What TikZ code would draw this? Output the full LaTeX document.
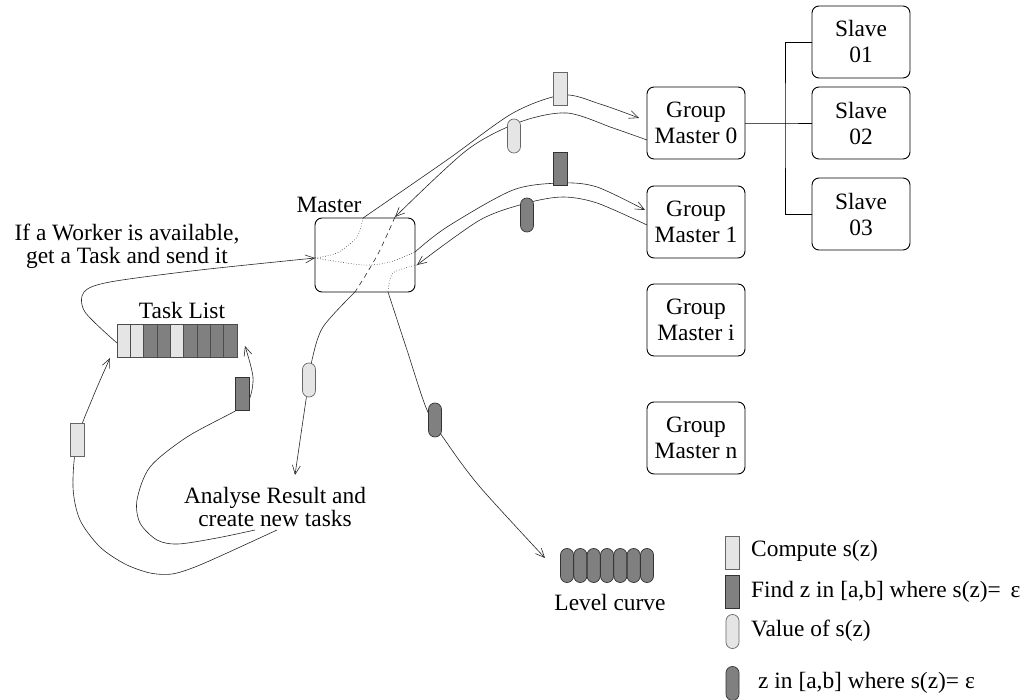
\documentclass[tikz,border=0pt]{standalone}
\usepackage{fontspec}
\setmainfont{Liberation Serif}
\usetikzlibrary{arrows.meta}
\definecolor{lightf}{gray}{0.9}
\definecolor{darkf}{gray}{0.5}
\begin{document}
\begin{tikzpicture}[x=1pt,y=-1pt,
 font=\fontsize{23.4}{26}\selectfont,
 box/.style={draw, line width=0.9pt, rounded corners=7pt, minimum width=98pt, minimum height=72pt, inner sep=0pt, align=center},
 conn/.style={line width=0.6pt, draw=black!85},
 arr/.style={conn, -{Straight Barb[length=9pt,width=8pt,line width=0.6pt]}},
 lrect/.style={draw=black!60, fill=lightf, line width=0.7pt, minimum width=14pt, minimum height=33pt, inner sep=0pt},
 drect/.style={lrect, fill=darkf, draw=black!80},
 loval/.style={lrect, rounded corners=6.4pt, minimum width=13pt, minimum height=34pt},
 doval/.style={loval, fill=darkf, draw=black!80},
 lcell/.style={draw=black!70, line width=0.7pt, fill=lightf, minimum width=13.33pt, minimum height=33pt, inner sep=0pt},
 dcell/.style={lcell, fill=darkf},
 dotl/.style={conn, dotted},
 dashl/.style={conn, dash pattern=on 5pt off 4pt},
 txt/.style={inner sep=0pt, align=center},
 ttxt/.style={inner sep=0pt, align=center, font=\fontsize{23.4}{20.5}\selectfont}
]
\useasboundingbox (0,0) rectangle (1031,700);

% main boxes
\node[box, minimum width=100pt, minimum height=74pt] (master) at (365,255) {};
\node[txt] (masterlbl) at (329,205) {Master};
\node[box] (gm0) at (696,123) {Group\\Master 0};
\node[box] (gm1) at (696,222) {Group\\Master 1};
\node[box] (gmi) at (696,320) {Group\\Master i};
\node[box] (gmn) at (696,438) {Group\\Master n};
\node[box] (s1) at (861,42) {Slave\\01};
\node[box] (s2) at (861,123) {Slave\\02};
\node[box] (s3) at (861,214) {Slave\\03};

% slave tree
\coordinate (branch) at (785,123);
\draw[line width=0.9pt] (gm0.east) -- (branch) -- (s2.west);
\draw[line width=0.9pt] (s1.west) -| (branch) |- (s3.west);

% task list
\foreach \i/\s in {1/lcell,2/lcell,3/dcell,4/dcell,5/lcell,6/dcell,7/dcell,8/dcell,9/dcell}{
  \node[\s] (t\i) at ({117+13.33*(\i-0.5)},340.5) {};
}
\node[txt] (tasklbl) at (182,310) {Task List};

% texts
\node[ttxt, font=\fontsize{23.4}{23}\selectfont] (worker) at (127,246) {If a Worker is available,\\get a Task and send it};
\node[ttxt] (analyse) at (275,507) {Analyse Result and\\create new tasks};

% coordinates
\coordinate (mIn) at (315,258);
\coordinate (mTop) at (363,218);
\coordinate (g0in) at (639,118);
\coordinate (g0out) at (647,140);
\coordinate (mR0) at (395,217);
\coordinate (mBot0) at (355,292);
\coordinate (aIn) at (295,475);
\coordinate (mRight1) at (415,252);
\coordinate (g1in) at (645,210);
\coordinate (g1out) at (647,225);
\coordinate (mR1) at (417,265);
\coordinate (mBot1) at (388,292);
\coordinate (lcIn) at (545,558);
\coordinate (tlOut) at (117,343);
\coordinate (aOut1) at (277,530);
\coordinate (aOut2) at (255,530);
\coordinate (tlIn1) at (110,358);
\coordinate (tlIn2) at (245,346);

% Master -> GM0
\draw[dotl] plot[smooth] coordinates {(mIn) (337,253) (357,237) (mTop)};
\draw[arr] plot[smooth] coordinates {(mTop) (447,160) (513,113) (563,95) (600,104) (g0in)};
% GM0 -> Master -> Analyse
\draw[arr] plot[smooth] coordinates {(g0out) (613,128) (567,113) (520,122) (467,150) (mR0)};
\draw[dashl] plot[smooth] coordinates {(mR0) (380,250) (367,273) (mBot0)};
\draw[arr] plot[smooth] coordinates {(mBot0) (323,327) (312,360) (307,393) (aIn)};
% Master -> GM1
\draw[dotl] plot[smooth] coordinates {(mIn) (363,265) (390,262) (mRight1)};
\draw[arr] plot[smooth] coordinates {(mRight1) (447,227) (513,190) (562,183) (597,187) (g1in)};
% GM1 -> Master -> Level curve
\draw[arr] plot[smooth] coordinates {(g1out) (597,203) (563,197) (527,203) (480,220) (mR1)};
\draw[dotl] plot[smooth] coordinates {(mR1) (393,273) (mBot1)};
\draw[arr] plot[smooth] coordinates {(mBot1) (407,350) (427,410) (447,443) (480,487) (lcIn)};
% Task list -> Master
\draw[arr] plot[smooth] coordinates {(tlOut) (85,312) (84,292) (110,282) (200,270) (mIn)};
% Analyse -> Task list (outer)
\draw[arr] plot[smooth] coordinates {(aOut1) (227,553) (195,567) (172,574) (150,573) (125,564) (100,547) (80,520) (73,487) (77,440) (93,397) (tlIn1)};
% Analyse -> Task list (inner)
\draw[arr] plot[smooth] coordinates {(aOut2) (217,538) (178,544) (157,540) (140,523) (137,500) (150,467) (187,437) (237,410) (249,400) (253,377) (tlIn2)};

% messages on connectors
\node[lrect] (m1) at (560,89) {};
\node[loval] (m2) at (514,136) {};
\node[drect] (m3) at (560,169) {};
\node[doval] (m4) at (527,215) {};
\node[loval] (m5) at (309,380) {};
\node[doval] (m6) at (435,420) {};
\node[lrect] (m7) at (77,440) {};
\node[drect] (m8) at (242,394) {};

% level curve
\foreach \i in {0,...,6}{
  \node[doval] (lc\i) at ({567+13.33*\i},565.5) {};
}
\node[txt] (lclbl) at (610,602) {Level curve};

% legend
\node[lrect] (lg1) at (732.5,552.5) {};
\node[txt, anchor=west] (lg1t) at (751,551) {Compute s(z)};
\node[drect] (lg2) at (732.5,592) {};
\node[txt, anchor=west] (lg2t) at (751,592) {Find z in [a,b] where s(z)=\, ε};
\node[loval] (lg3) at (732.5,631.5) {};
\node[txt, anchor=west] (lg3t) at (751,631) {Value of s(z)};
\node[doval] (lg4) at (732.5,683.5) {};
\node[txt, anchor=west] (lg4t) at (758,683) {z in [a,b] where s(z)= ε};
\end{tikzpicture}
\end{document}
